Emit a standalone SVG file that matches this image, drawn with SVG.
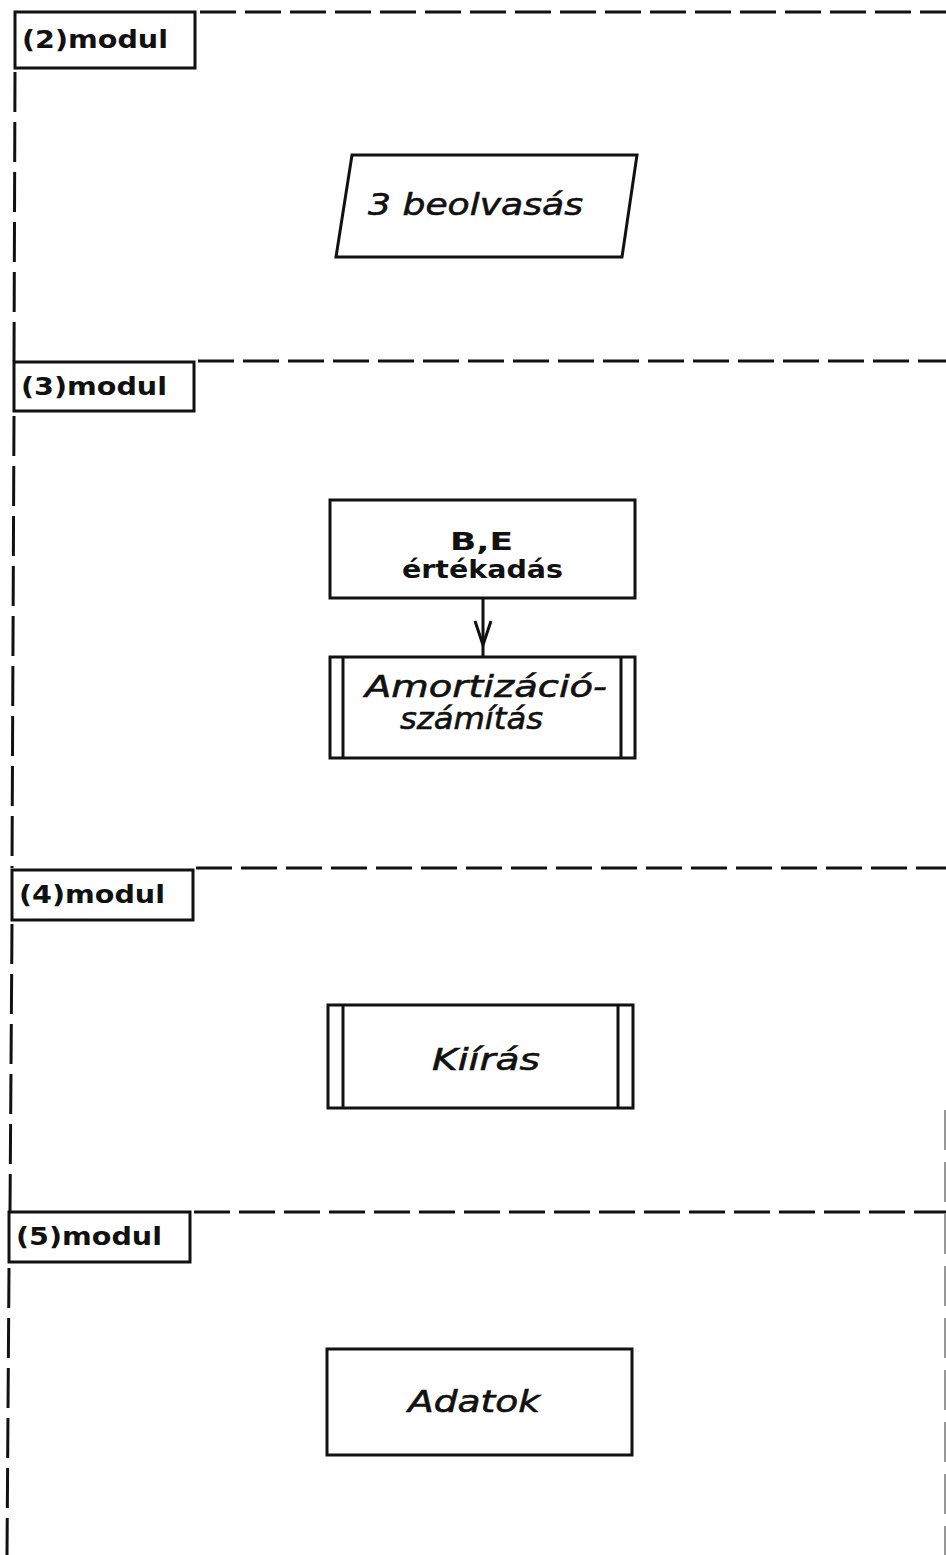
<svg xmlns="http://www.w3.org/2000/svg" width="946" height="1555" viewBox="0 0 946 1555">
<style>
.frame{fill:none;stroke:#111;stroke-width:3;stroke-dasharray:36 9}
.vframe{fill:none;stroke:#111;stroke-width:3;stroke-dasharray:40 10}
.box{fill:#fff;stroke:#111;stroke-width:3}
.lbl{font-family:"DejaVu Sans","Liberation Sans",sans-serif;font-weight:bold;font-size:25px;fill:#111}
.it{font-family:"DejaVu Sans","Liberation Sans",sans-serif;font-style:oblique;font-size:30px;fill:#111;stroke:#111;stroke-width:0.6}
.rg{font-family:"DejaVu Sans","Liberation Sans",sans-serif;font-weight:bold;font-size:25px;fill:#111}
.conn{fill:none;stroke:#111;stroke-width:3}
</style>
<rect x="0" y="0" width="946" height="1555" fill="#fff"/>
<g id="frame">
<path class="frame" d="M200 12 H946"/>
<path class="frame" d="M198 361 H946"/>
<path class="frame" d="M196 868 H946"/>
<path class="frame" d="M194 1212 H946"/>
<path class="vframe" d="M15 72 L14 361"/>
<path class="vframe" d="M14 416 L12 868"/>
<path class="vframe" d="M12 924 L10 1212"/>
<path class="vframe" d="M9 1268 L7 1555"/>
<path fill="none" stroke="#777" stroke-width="1.5" stroke-dasharray="40 12" d="M945 1110 V1555"/>
</g>
<g id="mod2"><rect class="box" x="15" y="12" width="180" height="56"/><text class="lbl" x="22" y="48" textLength="146" lengthAdjust="spacingAndGlyphs">(2)modul</text></g>
<g id="mod3"><rect class="box" x="14" y="362" width="180" height="49"/><text class="lbl" x="21" y="395" textLength="146" lengthAdjust="spacingAndGlyphs">(3)modul</text></g>
<g id="mod4"><rect class="box" x="12" y="870" width="181" height="50"/><text class="lbl" x="19" y="903" textLength="146" lengthAdjust="spacingAndGlyphs">(4)modul</text></g>
<g id="mod5"><rect class="box" x="9" y="1212" width="181" height="50"/><text class="lbl" x="16" y="1245" textLength="146" lengthAdjust="spacingAndGlyphs">(5)modul</text></g>
<g id="beolvasas"><path class="box" d="M352 155 H637 L622 257 H336 Z"/><text class="it" x="368" y="215" textLength="215" lengthAdjust="spacingAndGlyphs">3 beolvasás</text></g>
<g id="ertekadas"><rect class="box" x="330" y="500" width="305" height="98"/>
<text class="rg" x="450" y="550" textLength="63" lengthAdjust="spacingAndGlyphs">B,E</text>
<text class="rg" x="402" y="578" textLength="161" lengthAdjust="spacingAndGlyphs">értékadás</text></g>
<g id="amortizacio"><rect class="box" x="330" y="657" width="305" height="101"/>
<path class="conn" d="M343 657 V758 M621 657 V758"/>
<text class="it" x="365" y="697" textLength="242" lengthAdjust="spacingAndGlyphs">Amortizáció-</text>
<text class="it" x="400" y="729" textLength="143" lengthAdjust="spacingAndGlyphs">számítás</text></g>
<g id="kiiras"><rect class="box" x="328" y="1005" width="305" height="103"/>
<path class="conn" d="M343 1005 V1108 M618 1005 V1108"/>
<text class="it" x="432" y="1070" textLength="108" lengthAdjust="spacingAndGlyphs">Kiírás</text></g>
<g id="adatok"><rect class="box" x="327" y="1349" width="305" height="106"/>
<text class="it" x="408" y="1412" textLength="132" lengthAdjust="spacingAndGlyphs">Adatok</text></g>
<g id="connectors">
<path class="conn" d="M483 598 V656"/>
<path class="conn" d="M475 621 L483 645 L491 621"/>
</g>
</svg>
